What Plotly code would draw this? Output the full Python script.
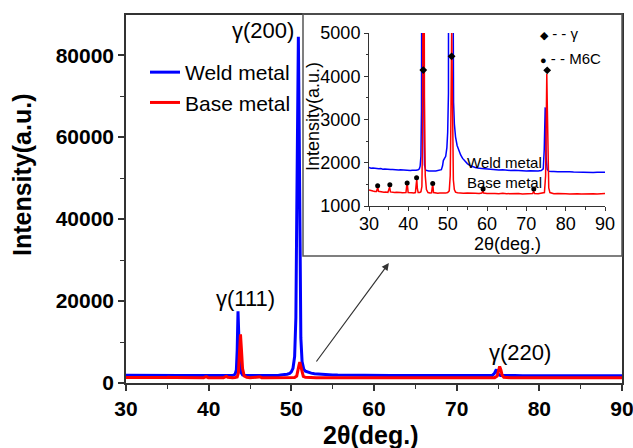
import plotly.graph_objects as go

# ---------------- data ----------------
weld_2theta = [30.0, 30.5, 31.0, 31.5, 32.0, 32.5, 33.0, 33.5, 34.0, 34.5, 35.0, 35.5, 36.0, 36.5,
               37.0, 37.5, 38.0, 38.5, 39.0, 39.5, 40.0, 40.5, 41.0, 41.5, 42.0, 42.5, 42.8, 43.0,
               43.2, 43.35, 43.45, 43.55, 43.65, 43.75, 43.9, 44.1, 44.4, 44.8, 45.2, 45.6, 46.0,
               46.5, 47.0, 47.5, 48.0, 48.4, 48.7, 48.9, 49.2, 49.5, 49.8, 50.0, 50.2, 50.4, 50.55,
               50.65, 50.75, 50.85, 50.95, 51.05, 51.15, 51.3, 51.5, 51.7, 52.0, 52.4, 52.8, 53.3,
               53.8, 54.4, 55.0, 55.6, 56.3, 57.0, 58.0, 59.0, 60.0, 61.0, 62.0, 63.0, 64.0, 65.0,
               66.0, 67.0, 68.0, 69.0, 70.0, 71.0, 72.0, 73.0, 73.8, 74.3, 74.55, 74.7, 74.8, 74.9,
               75.05, 75.3, 75.7, 76.5, 77.0, 78.0, 79.0, 80.0, 81.0, 82.0, 83.0, 84.0, 85.0, 86.0,
               87.0, 88.0, 89.0, 90.0]
weld_intensity = [1890, 1875, 1880, 1868, 1872, 1860, 1865, 1852, 1858, 1848, 1852, 1842, 1846, 1836,
                  1842, 1832, 1836, 1830, 1826, 1832, 1826, 1822, 1828, 1820, 1826, 1836, 1860, 1920,
                  2150, 3200, 8000, 17500, 12500, 5000, 2600, 1950, 1830, 1815, 1810, 1812, 1805,
                  1810, 1808, 1815, 1820, 1840, 1930, 2050, 2100, 2150, 2350, 2700, 3600, 6500, 16000,
                  40000, 72000, 84500, 62000, 30000, 11000, 5200, 3400, 2900, 2600, 2400, 2280, 2180,
                  2100, 2030, 1980, 1940, 1910, 1890, 1870, 1860, 1850, 1845, 1838, 1832, 1836, 1826,
                  1822, 1826, 1816, 1820, 1812, 1816, 1808, 1812, 1818, 1860, 2300, 3100, 3280, 2800,
                  2100, 1850, 1805, 1796, 1800, 1790, 1795, 1786, 1790, 1785, 1781, 1786, 1780, 1785,
                  1776, 1781, 1776, 1780]

base_2theta = [30.0, 30.5, 31.0, 31.5, 31.9, 32.1, 32.25, 32.4, 32.8, 33.3, 33.8, 34.3, 34.8, 35.1,
               35.25, 35.45, 35.9, 36.5, 37.0, 37.5, 38.0, 38.5, 39.0, 39.4, 39.6, 39.75, 39.95, 40.4,
               40.9, 41.4, 41.8, 42.0, 42.15, 42.3, 42.5, 42.9, 43.2, 43.45, 43.6, 43.72, 43.85,
               43.97, 44.1, 44.3, 44.6, 45.0, 45.5, 45.9, 46.1, 46.25, 46.4, 46.9, 47.5, 48.0, 48.5,
               49.0, 49.5, 50.0, 50.4, 50.65, 50.8, 50.92, 51.02, 51.12, 51.25, 51.45, 51.7, 52.0,
               52.5, 53.0, 54.0, 55.0, 56.0, 57.0, 58.0, 58.7, 58.95, 59.15, 60.0, 61.0, 62.0, 63.0,
               64.0, 65.0, 66.0, 67.0, 68.0, 69.0, 70.0, 71.0, 71.6, 71.85, 72.1, 73.0, 74.0, 74.6,
               74.9, 75.05, 75.2, 75.35, 75.5, 75.7, 76.0, 76.5, 77.0, 78.0, 79.0, 80.0, 81.0, 82.0,
               83.0, 84.0, 85.0, 86.0, 87.0, 88.0, 89.0, 90.0]
base_intensity = [1370, 1352, 1345, 1338, 1335, 1400, 1430, 1340, 1330, 1326, 1318, 1322, 1314, 1400,
                  1440, 1325, 1315, 1310, 1316, 1305, 1311, 1304, 1300, 1310, 1480, 1500, 1310, 1300,
                  1306, 1299, 1310, 1500, 1620, 1400, 1310, 1310, 1330, 1450, 2500, 6000, 11900,
                  8000, 3500, 1700, 1380, 1310, 1300, 1305, 1450, 1470, 1310, 1300, 1295, 1301, 1294,
                  1300, 1298, 1310, 1350, 1700, 2800, 4300, 5100, 4300, 2600, 1600, 1380, 1320,
                  1305, 1300, 1294, 1300, 1290, 1296, 1289, 1300, 1350, 1298, 1290, 1295, 1289, 1285,
                  1294, 1285, 1291, 1284, 1290, 1280, 1290, 1285, 1290, 1340, 1290, 1285, 1290, 1310,
                  1700, 3000, 4050, 3200, 1900, 1420, 1310, 1290, 1285, 1291, 1280, 1286, 1280, 1290,
                  1284, 1280, 1286, 1280, 1285, 1279, 1285, 1290]

# phase markers in the inset
m6c_2theta = [32.2, 35.3, 39.7, 42.1, 46.2, 59.0, 71.9]
m6c_intensity = [1470, 1493, 1530, 1652, 1523, 1393, 1393]
gamma_2theta = [43.8, 51.0, 75.3]
gamma_intensity = [4143, 4461, 4136]

# peak labels in the main plot
peak_labels = ["γ(200)", "γ(111)", "γ(220)"]

series_names = ["Weld metal", "Base metal"]
BLUE = "#0000FF"
RED = "#FF0000"

# ---------------- geometry helpers (pixel -> paper) ----------------
W, H = 633, 448
L, R, T, B = 126, 622, 15, 383   # main plot area in pixels


def px(x):
    return (x - L) / (R - L)


def py(y):
    return (B - y) / (B - T)


FONT = "Liberation Sans, Arial, sans-serif"

fig = go.Figure()

# main plot traces
fig.add_trace(go.Scatter(x=weld_2theta, y=weld_intensity, mode="lines", name=series_names[0],
                         line=dict(color=BLUE, width=3)))
fig.add_trace(go.Scatter(x=base_2theta, y=base_intensity, mode="lines", name=series_names[1],
                         line=dict(color=RED, width=3)))

# inset traces
fig.add_trace(go.Scatter(x=weld_2theta, y=weld_intensity, mode="lines", showlegend=False,
                         line=dict(color=BLUE, width=1.5), xaxis="x2", yaxis="y2"))
fig.add_trace(go.Scatter(x=base_2theta, y=base_intensity, mode="lines", showlegend=False,
                         line=dict(color=RED, width=1.5), xaxis="x2", yaxis="y2"))
fig.add_trace(go.Scatter(x=m6c_2theta, y=m6c_intensity, mode="markers", showlegend=False,
                         marker=dict(symbol="circle", size=5, color="black"), xaxis="x2", yaxis="y2"))
fig.add_trace(go.Scatter(x=gamma_2theta, y=gamma_intensity, mode="markers", showlegend=False,
                         marker=dict(symbol="diamond", size=6, color="black"), xaxis="x2", yaxis="y2"))

axis_common = dict(showline=True, linecolor="#333333", ticks="outside", tickcolor="#333333",
                   showgrid=False, zeroline=False, automargin=False, ticklabeloverflow="allow")

fig.update_layout(
    width=W, height=H,
    margin=dict(l=L, r=W - R, t=T, b=H - B, autoexpand=False),
    paper_bgcolor="white", plot_bgcolor="white",
    font=dict(family=FONT, color="black"),
    xaxis=dict(range=[30, 90], dtick=10, tick0=30, ticklen=6, tickwidth=1.5, linewidth=1.5,
               mirror=True, tickfont=dict(size=21, weight="bold", family=FONT),
               minor=dict(dtick=5, ticklen=4, tickwidth=1.2, ticks="outside", tickcolor="#333333"),
               domain=[0, 1], **axis_common),
    yaxis=dict(range=[0, 89800], dtick=20000, tickformat="d", ticklen=6, tickwidth=1.5, linewidth=1.5,
               mirror=True, tickfont=dict(size=21, weight="bold", family=FONT),
               minor=dict(dtick=10000, ticklen=4, tickwidth=1.2, ticks="outside", tickcolor="#333333"),
               domain=[0, 1], **axis_common),
    xaxis2=dict(range=[30, 90], dtick=10, tick0=30, ticklen=4, tickwidth=1, linewidth=1,
                tickfont=dict(size=18, family=FONT), ticklabelstandoff=-3,
                minor=dict(dtick=5, ticklen=2.5, ticks="outside", tickcolor="#333333"),
                domain=[px(369), px(605)], anchor="y2", **axis_common),
    yaxis2=dict(range=[1000, 5000], dtick=1000, tickformat="d", ticklen=4, tickwidth=1, linewidth=1,
                tickfont=dict(size=18, family=FONT),
                minor=dict(dtick=500, ticklen=2.5, ticks="outside", tickcolor="#333333"),
                domain=[py(206), py(33)], anchor="x2", **axis_common),
    legend=dict(x=px(145), y=py(52), xanchor="left", yanchor="top", bgcolor="rgba(0,0,0,0)",
                font=dict(size=21, family=FONT), borderwidth=0),
)

# inset frame
fig.add_shape(type="rect", xref="paper", yref="paper", x0=px(303), x1=px(622), y0=py(256), y1=py(14),
              line=dict(color="#555555", width=1.5), layer="above")

ann = []


def text(x, y, s, size, bold=False, angle=0, xanchor="center"):
    ann.append(dict(x=px(x), y=py(y), xref="paper", yref="paper", text=s, showarrow=False,
                    textangle=angle, xanchor=xanchor, yanchor="middle",
                    font=dict(size=size, family=FONT, color="black", weight="bold" if bold else "normal")))


# axis titles
text(22, 175, "Intensity(a.u.)", 25, bold=True, angle=-90)
text(370, 435, "2θ(deg.)", 25, bold=True)
# peak labels
text(263, 30, peak_labels[0], 22)
text(245, 298, peak_labels[1], 22)
text(520, 352, peak_labels[2], 22)
# inset texts
text(313, 117, "Intensity(a.u.)", 18, angle=-90)
text(507, 244, "2θ(deg.)", 18)
text(504, 162, series_names[0], 15)
text(504, 182, series_names[1], 15)
text(538, 33, "<span style='font-size:11px'>◆</span> - - γ", 15, xanchor="left")
text(538, 58, "<span style='font-size:11px'>●</span> - - M6C", 15, xanchor="left")

# arrow pointing to the inset
ann.append(dict(x=61.8, y=29268, ax=52.9, ay=4878, xref="x", yref="y", axref="x", ayref="y",
                text="", showarrow=True, arrowhead=2, arrowsize=1.2, arrowwidth=1.2, arrowcolor="#333333"))

fig.update_layout(annotations=ann)

fig.write_html("out.html")
